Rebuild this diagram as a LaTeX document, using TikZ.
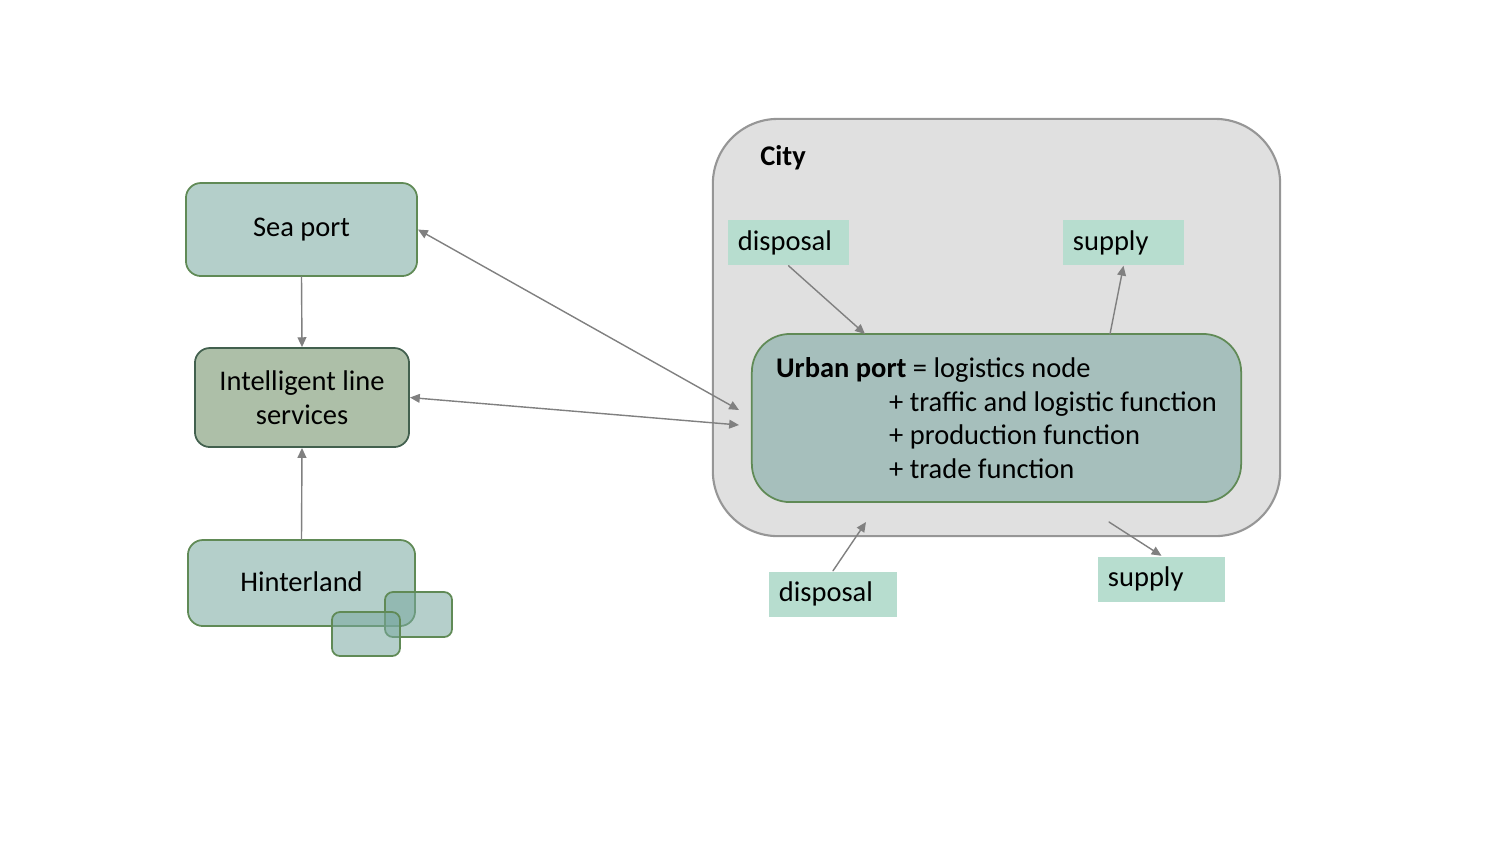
\documentclass[tikz,border=0pt]{standalone}
\usepackage{fontspec}
\setmainfont{Carlito}
\usetikzlibrary{arrows.meta}
\definecolor{portfill}{RGB}{180,207,202}
\definecolor{portedge}{RGB}{96,138,86}
\definecolor{sqfill}{RGB}{120,168,160}
\definecolor{ilsfill}{RGB}{173,191,168}
\definecolor{ilsedge}{RGB}{66,96,78}
\definecolor{cityfill}{RGB}{224,224,224}
\definecolor{cityedge}{RGB}{150,150,150}
\definecolor{urbanfill}{RGB}{166,191,188}
\definecolor{tagfill}{RGB}{183,221,207}
\definecolor{linkgray}{RGB}{128,128,128}
\begin{document}
\begin{tikzpicture}[x=0.01cm, y=-0.01cm, >={Triangle[length=2.8pt,width=2.5pt]},
	font=\fontsize{8.1}{9.6}\selectfont, line join=round, line cap=round,
	portbox/.style={draw=portedge, line width=0.5pt, fill=portfill, rounded corners=0.15cm, inner sep=0pt, align=center},
	sqbox/.style={portbox, fill=sqfill, fill opacity=0.55, rounded corners=0.08cm},
	tagbox/.style={fill=tagfill, inner xsep=0.1cm, inner ysep=0pt, minimum height=0.45cm, align=left},
	link/.style={draw=linkgray, line width=0.4pt}]
	\useasboundingbox (0,0) rectangle (1500,844);
	% left column
	\node[portbox, minimum width=2.31cm, minimum height=0.93cm] (sea) at (301.5,229.5) {Sea port};
	\node[portbox, fill=ilsfill, draw=ilsedge, minimum width=2.14cm, minimum height=0.99cm] (ils) at (302,397.5) {Intelligent line\\services};
	\node[portbox, minimum width=2.27cm, minimum height=0.86cm] (hint) at (301.5,583) {\raisebox{0.8pt}{Hinterland}};
	\node[sqbox, minimum width=0.67cm, minimum height=0.45cm] (sqa) at (418.5,614.5) {};
	\node[sqbox, minimum width=0.68cm, minimum height=0.44cm] (sqb) at (366,634) {};
	% city
	\node[draw=cityedge, line width=0.6pt, fill=cityfill, rounded corners=0.65cm, minimum width=5.67cm, minimum height=4.17cm] (city) at (996.5,327.5) {};
	\node[font=\fontsize{8.1}{9.6}\selectfont\bfseries] (citylabel) at (783,158) {City};
	\node[tagbox, text width=1.01cm] (dispin) at (788.5,242.5) {disposal};
	\node[tagbox, text width=1.01cm] (suppin) at (1123.5,242.5) {supply};
	\node[draw=portedge, line width=0.5pt, fill=urbanfill, rounded corners=0.38cm, minimum width=4.89cm, minimum height=1.68cm,
		inner sep=0pt, align=left] (urban) at (996.5,418)
		{\textbf{Urban port} = logistics node\\
		\hspace*{1.13cm}+ traffic and logistic function\\
		\hspace*{1.13cm}+ production function\\
		\hspace*{1.13cm}+ trade function};
	\node[tagbox, text width=1.08cm] (dispout) at (833,594) {disposal};
	\node[tagbox, text width=1.07cm] (suppout) at (1161.5,579) {supply};
	% free ends
	\coordinate (ina) at (739,410);
	\coordinate (inb) at (739,425);
	\coordinate (dtop) at (865,334);
	\coordinate (stop) at (1110,334);
	\coordinate (dbot) at (866,522);
	\coordinate (sbot) at (1109,522);
	% connectors
	\draw[link,->] (sea.south) -- (ils.north);
	\draw[link,->] (hint.north) -- (ils.south);
	\draw[link,<->] (sea.east) -- (ina);
	\draw[link,<->] (ils.east) -- (inb);
	\draw[link,->] (dispin.south) -- (dtop);
	\draw[link,->] (stop) -- (suppin.south);
	\draw[link,->] (dispout.north) -- (dbot);
	\draw[link,->] (sbot) -- (suppout.north);
\end{tikzpicture}
\end{document}
